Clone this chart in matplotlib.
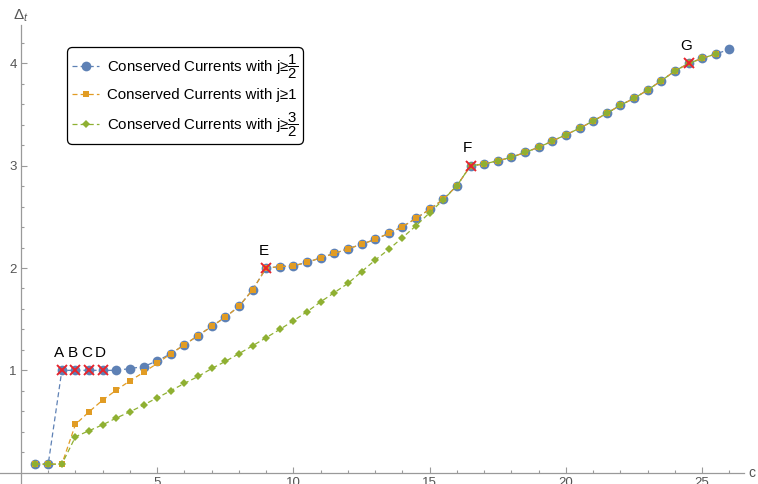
import matplotlib
matplotlib.use("Agg")
import matplotlib.pyplot as plt

plt.rcParams['font.family'] = ['Liberation Sans', 'DejaVu Sans']
plt.rcParams['mathtext.fontset'] = 'custom'
plt.rcParams['mathtext.rm'] = 'Liberation Sans'
plt.rcParams['mathtext.it'] = 'Liberation Sans:italic'
plt.rcParams['mathtext.bf'] = 'Liberation Sans:bold'

# central charge grid
c_half = [0.5, 1.0, 1.5, 2.0, 2.5, 3.0, 3.5, 4.0, 4.5, 5.0,
          5.5, 6.0, 6.5, 7.0, 7.5, 8.0, 8.5, 9.0, 9.5, 10.0,
          10.5, 11.0, 11.5, 12.0, 12.5, 13.0, 13.5, 14.0, 14.5, 15.0,
          15.5, 16.0, 16.5, 17.0, 17.5, 18.0, 18.5, 19.0, 19.5, 20.0,
          20.5, 21.0, 21.5, 22.0, 22.5, 23.0, 23.5, 24.0, 24.5, 25.0,
          25.5, 26.0]
c_one = c_half[:-1]
c_three_half = c_half[:-1]

# twist gap bounds
delta_half = [0.083, 0.083, 1.0, 1.0, 1.0, 1.0, 1.0, 1.017, 1.037, 1.092,
              1.163, 1.25, 1.34, 1.43, 1.52, 1.625, 1.787, 2.0, 2.013, 2.022,
              2.055, 2.10, 2.143, 2.188, 2.232, 2.28, 2.339, 2.404, 2.486, 2.574,
              2.672, 2.805, 3.0, 3.017, 3.049, 3.082, 3.131, 3.18, 3.241, 3.303,
              3.366, 3.437, 3.512, 3.592, 3.659, 3.74, 3.831, 3.926, 4.0, 4.05,
              4.092, 4.138]
delta_one = [0.083, 0.083, 0.083, 0.472, 0.595, 0.71, 0.807, 0.898, 0.98, 1.068,
             1.163, 1.25, 1.34, 1.43, 1.52, 1.625, 1.787, 2.0, 2.013, 2.022,
             2.055, 2.10, 2.143, 2.188, 2.232, 2.28, 2.339, 2.404, 2.486, 2.574,
             2.672, 2.805, 3.0, 3.017, 3.049, 3.082, 3.131, 3.18, 3.241, 3.303,
             3.366, 3.437, 3.512, 3.592, 3.659, 3.74, 3.831, 3.926, 4.0, 4.05,
             4.092]
delta_three_half = [0.083, 0.083, 0.083, 0.351, 0.41, 0.468, 0.534, 0.595, 0.661, 0.732,
                    0.801, 0.873, 0.94, 1.018, 1.087, 1.163, 1.24, 1.32, 1.40, 1.485,
                    1.573, 1.67, 1.76, 1.85, 1.964, 2.078, 2.183, 2.297, 2.414, 2.541,
                    2.667, 2.805, 3.0, 3.017, 3.049, 3.082, 3.131, 3.18, 3.241, 3.303,
                    3.366, 3.437, 3.512, 3.592, 3.659, 3.74, 3.831, 3.926, 4.0, 4.05,
                    4.092]

# kinks
kink_names = ['A', 'B', 'C', 'D', 'E', 'F', 'G']
kink_c = [1.5, 2.0, 2.5, 3.0, 9.0, 16.5, 24.5]
kink_delta = [1.0, 1.0, 1.0, 1.0, 2.0, 3.0, 4.0]

blue = '#5E81B5'
orange = '#E19C24'
green = '#8FB032'
axis_gray = '#9a9a9a'
label_gray = '#555555'

fig = plt.figure(figsize=(7.58, 4.84), dpi=100)
ax = fig.add_axes([0, 0, 1, 1])

ax.plot(c_half, delta_half, '--', color=blue, lw=0.9, dashes=(4, 2.5),
        marker='o', ms=7, mew=0, label='Conserved Currents with j≥$\\dfrac{1}{2}$', zorder=3)
ax.plot(c_one, delta_one, '--', color=orange, lw=0.9, dashes=(4, 2.5),
        marker='s', ms=5, mew=0, label='Conserved Currents with j≥1', zorder=4)
ax.plot(c_three_half, delta_three_half, '--', color=green, lw=0.9, dashes=(4, 2.5),
        marker='D', ms=4.5, mew=0, label='Conserved Currents with j≥$\\dfrac{3}{2}$', zorder=5)
ax.plot(kink_c, kink_delta, 'x', color='#E8242C', ms=6.5, mew=1.4, zorder=6)

for name, x, y in zip(kink_names, kink_c, kink_delta):
    ax.annotate(name, (x, y), xytext=(-2, 12.5), textcoords='offset points',
                ha='center', va='center', fontsize=11, color='black')

ax.set_xlim(-0.77, 27.05)
ax.set_ylim(-0.111, 4.62)

for side in ['top', 'right']:
    ax.spines[side].set_visible(False)
ax.spines['bottom'].set_position(('data', 0))
ax.spines['left'].set_position(('data', 0))
ax.spines['bottom'].set_bounds(-0.77, 26.53)
ax.spines['left'].set_bounds(-0.111, 4.375)
for side in ['bottom', 'left']:
    ax.spines[side].set_color(axis_gray)
    ax.spines[side].set_linewidth(0.9)

ax.set_xticks([5, 10, 15, 20, 25])
ax.set_xticks(range(1, 27), minor=True)
ax.set_yticks([1, 2, 3, 4])
ax.set_yticks([0.2, 0.4, 0.6, 0.8, 1.2, 1.4, 1.6, 1.8, 2.2, 2.4, 2.6, 2.8,
               3.2, 3.4, 3.6, 3.8, 4.2], minor=True)
ax.set_xticklabels(['5', '10', '15', '20', '25'])
ax.set_yticklabels(['1', '2', '3', '4'])
ax.tick_params(which='both', direction='in', color=axis_gray, width=0.8,
               labelcolor=label_gray, labelsize=9.5, pad=3.0)
ax.tick_params(which='major', length=4)
ax.tick_params(which='minor', length=2.2)

ax.text(26.7, 0.0, 'c', ha='left', va='center', fontsize=10, color=label_gray)
ax.text(0.0, 4.47, '$\\Delta_t$', ha='center', va='center', fontsize=11, color=label_gray)

leg = ax.legend(loc='upper left', bbox_to_anchor=(67 / 758, 1 - 47 / 484),
                bbox_transform=fig.transFigure, borderaxespad=0, fontsize=10.8,
                numpoints=1, handlelength=1.8, handletextpad=0.5,
                labelspacing=0.5, borderpad=0.35, fancybox=True,
                framealpha=1, edgecolor='black')
leg.get_frame().set_linewidth(0.9)
leg.get_frame().set_boxstyle('round', pad=0.0, rounding_size=0.35)

fig.savefig('out.png', dpi=100)
